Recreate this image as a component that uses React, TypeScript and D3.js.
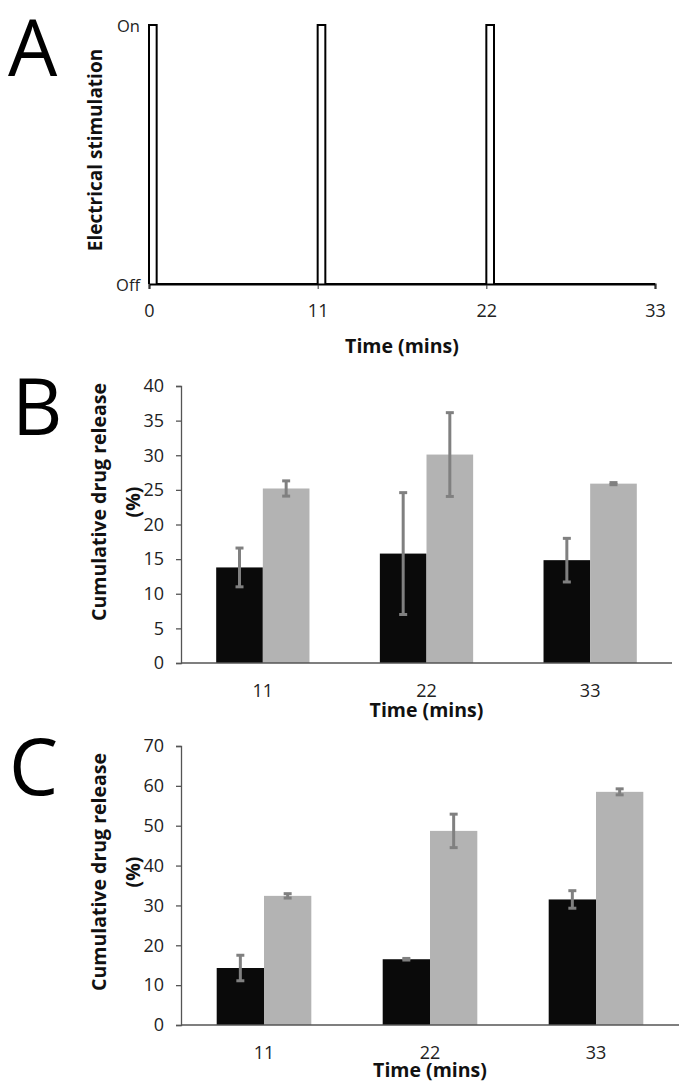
import { useEffect, useRef } from 'react';
import * as d3 from 'd3';

// Panel A: stimulation trace (time in min, state 0 = off, 1 = on)
const stimTimes = [0, 0, 0.5, 0.5, 11, 11, 11.5, 11.5, 22, 22, 22.5, 22.5, 33];
const stimStates = [0, 1, 1, 0, 0, 1, 1, 0, 0, 1, 1, 0, 0];
const timeTicks = [0, 11, 22, 33];
const stateLabels = ['Off', 'On'];

// Panels B and C: cumulative drug release (%)
const timePoints = ['11', '22', '33'];
const releaseB_dark = [13.8, 15.8, 14.85];
const errB_dark = [2.8, 8.8, 3.15];
const releaseB_light = [25.2, 30.1, 25.9];
const errB_light = [1.1, 6.05, 0.15];

const releaseC_dark = [14.3, 16.5, 31.5];
const errC_dark = [3.2, 0.2, 2.2];
const releaseC_light = [32.4, 48.7, 58.5];
const errC_light = [0.55, 4.2, 0.75];

const FONT = '"Open Sans", sans-serif';
const AXIS_COLOR = '#555';
const ERR_COLOR = '#808080';
const DARK = '#0a0a0a';
const LIGHT = '#b3b3b3';
const TICK_SIZE = '18px';
const LABEL_SIZE = '19.5px';

function drawBarPanel(svg, opts) {
  const { top, bottom, left, right, yMax, yStep, dark, darkErr, light, lightErr, labelY, tickY, titleY } = opts;

  const y = d3.scaleLinear().domain([0, yMax]).range([bottom, top]);
  const x = d3.scaleBand().domain(timePoints).range([left, right]).paddingInner(0.43).paddingOuter(0.215);
  const sub = d3.scaleBand().domain(['dark', 'light']).range([0, x.bandwidth()]);

  const g = svg.append('g');

  // y axis
  const yAxis = g.append('g')
    .attr('transform', `translate(${left},0)`)
    .call(d3.axisLeft(y).tickValues(d3.range(0, yMax + 1, yStep)).tickSize(5).tickPadding(12));
  yAxis.select('.domain').attr('stroke', AXIS_COLOR).attr('stroke-width', 1.3);
  yAxis.selectAll('.tick line').attr('stroke', AXIS_COLOR).attr('stroke-width', 1.3);
  yAxis.selectAll('.tick text')
    .attr('fill', '#222')
    .style('font-family', FONT)
    .style('font-size', TICK_SIZE);

  const rows = timePoints.map((t, i) => ({ t, dark: dark[i], darkErr: darkErr[i], light: light[i], lightErr: lightErr[i] }));

  // bars
  rows.forEach(r => {
    [['dark', r.dark, DARK], ['light', r.light, LIGHT]].forEach(([key, v, c]) => {
      g.append('rect')
        .attr('x', x(r.t) + sub(key))
        .attr('y', y(v))
        .attr('width', sub.bandwidth())
        .attr('height', y(0) - y(v))
        .attr('fill', c);
    });
  });

  // x axis line
  g.append('line')
    .attr('x1', left).attr('x2', right)
    .attr('y1', bottom).attr('y2', bottom)
    .attr('stroke', AXIS_COLOR).attr('stroke-width', 1.3);

  // error bars
  rows.forEach(r => {
    [['dark', r.dark, r.darkErr], ['light', r.light, r.lightErr]].forEach(([key, v, e]) => {
      const cx = x(r.t) + sub(key) + sub.bandwidth() / 2;
      g.append('line')
        .attr('x1', cx).attr('x2', cx)
        .attr('y1', y(v + e)).attr('y2', y(v - e))
        .attr('stroke', ERR_COLOR).attr('stroke-width', 3);
      [v + e, v - e].forEach(ev => {
        g.append('line')
          .attr('x1', cx - 4).attr('x2', cx + 4)
          .attr('y1', y(ev)).attr('y2', y(ev))
          .attr('stroke', ERR_COLOR).attr('stroke-width', 3);
      });
    });
  });

  // category labels
  g.selectAll('.cat')
    .data(timePoints)
    .join('text')
    .attr('x', d => x(d) + x.bandwidth() / 2)
    .attr('y', tickY)
    .attr('text-anchor', 'middle')
    .attr('dominant-baseline', 'central')
    .attr('fill', '#222')
    .style('font-family', FONT)
    .style('font-size', TICK_SIZE)
    .text(d => d);

  g.append('text')
    .attr('x', (left + right) / 2)
    .attr('y', titleY)
    .attr('text-anchor', 'middle')
    .attr('dominant-baseline', 'central')
    .attr('fill', '#111')
    .style('font-family', FONT)
    .style('font-size', LABEL_SIZE)
    .style('font-weight', 'bold')
    .text('Time (mins)');

  // y label in two lines
  [['Cumulative drug release', 98], ['(%)', 132]].forEach(([txt, lx]) => {
    g.append('text')
      .attr('transform', `translate(${lx},${labelY}) rotate(-90)`)
      .attr('text-anchor', 'middle')
      .attr('dominant-baseline', 'central')
      .attr('fill', '#111')
      .style('font-family', FONT)
      .style('font-size', LABEL_SIZE)
      .style('font-weight', 'bold')
      .text(txt);
  });
}

export default function App() {
  const svgRef = useRef(null);

  useEffect(() => {
    const svg = d3.select(svgRef.current);
    svg.selectAll('*').remove();

    // panel letters
    [['A', 8, 76], ['B', 12, 435], ['C', 9, 795]].forEach(([l, lx, ly]) => {
      svg.append('text')
        .attr('x', lx).attr('y', ly)
        .attr('fill', '#000')
        .style('font-family', FONT)
        .style('font-size', '78px')
        .text(l);
    });

    // ---- Panel A ----
    const xA = d3.scaleLinear().domain([0, 33]).range([149, 655]);
    const yA = d3.scaleLinear().domain([0, 1]).range([284, 25]);
    const gA = svg.append('g');

    const xAxisA = gA.append('g')
      .attr('transform', `translate(0,${yA(0)})`)
      .call(d3.axisBottom(xA).tickValues(timeTicks).tickSize(5).tickPadding(15));
    xAxisA.select('.domain').attr('stroke', '#000').attr('stroke-width', 2);
    xAxisA.selectAll('.tick line').attr('stroke', '#333').attr('stroke-width', 1);
    xAxisA.selectAll('.tick text')
      .attr('fill', '#222')
      .style('font-family', FONT)
      .style('font-size', TICK_SIZE);

    const pts = stimTimes.map((t, i) => [t, stimStates[i]]);
    gA.append('path')
      .datum(pts)
      .attr('fill', 'none')
      .attr('stroke', '#000')
      .attr('stroke-width', 2)
      .attr('d', d3.line().x(d => xA(d[0])).y(d => yA(d[1])));

    stateLabels.forEach((s, i) => {
      gA.append('text')
        .attr('x', 140)
        .attr('y', yA(i))
        .attr('text-anchor', 'end')
        .attr('dominant-baseline', 'central')
        .attr('fill', '#222')
        .style('font-family', FONT)
        .style('font-size', '16.5px')
        .text(s);
    });

    gA.append('text')
      .attr('x', (xA(0) + xA(33)) / 2)
      .attr('y', 345)
      .attr('text-anchor', 'middle')
      .attr('dominant-baseline', 'central')
      .attr('fill', '#111')
      .style('font-family', FONT)
      .style('font-size', LABEL_SIZE)
      .style('font-weight', 'bold')
      .text('Time (mins)');

    gA.append('text')
      .attr('transform', 'translate(95,150) rotate(-90)')
      .attr('text-anchor', 'middle')
      .attr('dominant-baseline', 'central')
      .attr('fill', '#111')
      .style('font-family', FONT)
      .style('font-size', '19px')
      .style('font-weight', 'bold')
      .text('Electrical stimulation');

    // ---- Panel B ----
    drawBarPanel(svg, {
      top: 386, bottom: 663, left: 181, right: 672, yMax: 40, yStep: 5,
      dark: releaseB_dark, darkErr: errB_dark, light: releaseB_light, lightErr: errB_light,
      labelY: 502, tickY: 690, titleY: 709,
    });

    // ---- Panel C ----
    drawBarPanel(svg, {
      top: 746, bottom: 1025, left: 181, right: 679, yMax: 70, yStep: 10,
      dark: releaseC_dark, darkErr: errC_dark, light: releaseC_light, lightErr: errC_light,
      labelY: 872, tickY: 1052, titleY: 1069,
    });
  }, []);

  return (
    <svg
      ref={svgRef}
      width={689}
      height={1092}
      style={{ position: 'absolute', left: 0, top: 0, background: '#fff' }}
    />
  );
}
